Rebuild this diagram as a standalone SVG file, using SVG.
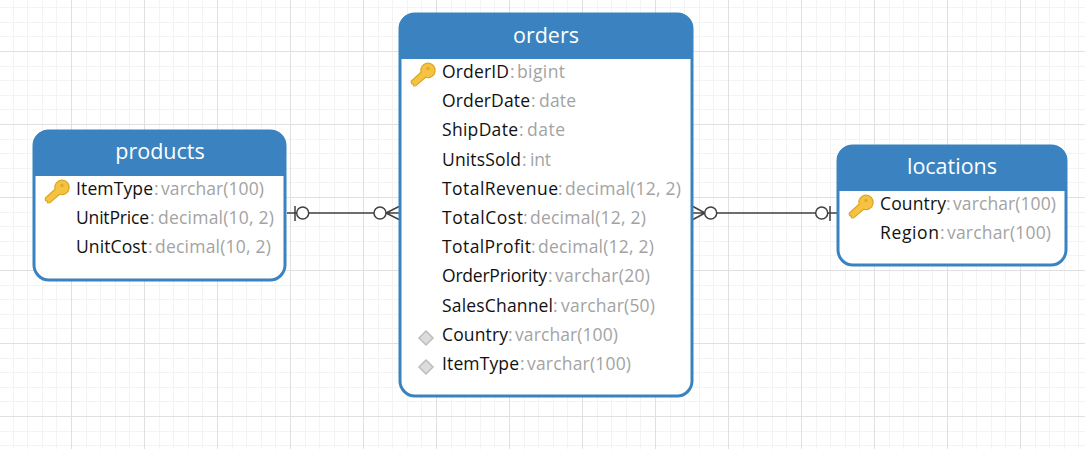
<svg xmlns="http://www.w3.org/2000/svg" width="1085" height="449" viewBox="0 0 1085 449">
<style>
text{font-family:"Open Sans","Noto Sans","Liberation Sans",sans-serif}
.t{font-size:21.5px;font-weight:500;fill:#fff;text-anchor:middle}
.f{font-size:17.5px;fill:#111}
.g{fill:#a3a3a3}
.b{fill:#fff;stroke:#3a83c0;stroke-width:3}
.h{fill:#3a83c0}
.c{fill:none;stroke:#404040;stroke-width:1.5}
.o{fill:#fff;stroke:#404040;stroke-width:1.5}
</style>
<defs>
<pattern id="grid" x="71" y="124" width="73" height="73" patternUnits="userSpaceOnUse">
<rect width="73" height="73" fill="#fff"/>
<path d="M15 0h1v73h-1zM29 0h1v73h-1zM44 0h1v73h-1zM58 0h1v73h-1zM0 15h73v1h-73zM0 29h73v1h-73zM0 44h73v1h-73zM0 58h73v1h-73z" fill="#f3f3f3"/>
<path d="M0 0h1v73h-1zM0 0h73v1h-73z" fill="#e0e0e0"/>
</pattern>
<g id="key">
<path d="M0.2 18.2L10 9.2A7.2 7.2 0 1 1 14.6 14.2L5 22.6L2.6 22.8L2.2 21L0.6 20.6Z" fill="#f5c242" stroke="#dca624" stroke-width="1.2" stroke-linejoin="round"/>
<circle cx="17" cy="5.5" r="1.8" fill="#e0ab2c"/>
</g>
<path id="dia" d="M0 -7L7 0L0 7L-7 0Z" fill="#dcdcdc" stroke="#bdbdbd" stroke-width="1.5"/>
</defs>
<rect width="1085" height="449" fill="url(#grid)"/>
<g id="connectors">
<path class="c" d="M287 213H399M295 206V221M386 213L399 206.5M386 213L399 219.5"/>
<circle class="o" cx="302.7" cy="213" r="6"/>
<circle class="o" cx="380" cy="213" r="6"/>
<path class="c" d="M693 213H837M830 206V221M705 213L693 206.5M705 213L693 219.5"/>
<circle class="o" cx="710.7" cy="213" r="6"/>
<circle class="o" cx="821.7" cy="213" r="6"/>
</g>
<g id="products">
<rect class="b" x="34" y="131" width="251" height="149" rx="15"/>
<path class="h" d="M33 176V145A15 15 0 0 1 48 130H271A15 15 0 0 1 286 145V176Z"/>
<text class="t" x="160" y="159">products</text>
<use href="#key" x="45" y="180"/>
<text class="f" y="195"><tspan x="76" textLength="77">ItemType</tspan><tspan class="g" x="154">:</tspan><tspan class="g" x="161" textLength="103">varchar(100)</tspan></text>
<text class="f" y="224"><tspan x="76" textLength="73">UnitPrice</tspan><tspan class="g" x="150">:</tspan><tspan class="g" x="158" textLength="116">decimal(10, 2)</tspan></text>
<text class="f" y="253"><tspan x="76" textLength="71">UnitCost</tspan><tspan class="g" x="148">:</tspan><tspan class="g" x="155" textLength="116">decimal(10, 2)</tspan></text>
</g>
<g id="orders">
<rect class="b" x="400" y="14" width="292" height="382" rx="15"/>
<path class="h" d="M399 59V28A15 15 0 0 1 414 13H678A15 15 0 0 1 693 28V59Z"/>
<text class="t" x="546" y="43">orders</text>
<use href="#key" x="411" y="63"/>
<text class="f" y="78"><tspan x="442" textLength="67">OrderID</tspan><tspan class="g" x="510">:</tspan><tspan class="g" x="517" textLength="48">bigint</tspan></text>
<text class="f" y="107"><tspan x="442" textLength="88">OrderDate</tspan><tspan class="g" x="531">:</tspan><tspan class="g" x="539" textLength="37">date</tspan></text>
<text class="f" y="136"><tspan x="442" textLength="76">ShipDate</tspan><tspan class="g" x="519">:</tspan><tspan class="g" x="527" textLength="38">date</tspan></text>
<text class="f" y="166"><tspan x="442" textLength="79">UnitsSold</tspan><tspan class="g" x="522">:</tspan><tspan class="g" x="530" textLength="21">int</tspan></text>
<text class="f" y="195"><tspan x="442" textLength="116">TotalRevenue</tspan><tspan class="g" x="558">:</tspan><tspan class="g" x="565" textLength="116">decimal(12, 2)</tspan></text>
<text class="f" y="224"><tspan x="442" textLength="81">TotalCost</tspan><tspan class="g" x="523">:</tspan><tspan class="g" x="530" textLength="116">decimal(12, 2)</tspan></text>
<text class="f" y="253"><tspan x="442" textLength="89">TotalProfit</tspan><tspan class="g" x="531">:</tspan><tspan class="g" x="538" textLength="116">decimal(12, 2)</tspan></text>
<text class="f" y="282"><tspan x="442" textLength="105">OrderPriority</tspan><tspan class="g" x="548">:</tspan><tspan class="g" x="555" textLength="95">varchar(20)</tspan></text>
<text class="f" y="312"><tspan x="442" textLength="111">SalesChannel</tspan><tspan class="g" x="553">:</tspan><tspan class="g" x="561" textLength="94">varchar(50)</tspan></text>
<use href="#dia" x="426" y="338"/>
<text class="f" y="341"><tspan x="442" textLength="66">Country</tspan><tspan class="g" x="508">:</tspan><tspan class="g" x="515" textLength="103">varchar(100)</tspan></text>
<use href="#dia" x="426" y="367"/>
<text class="f" y="370"><tspan x="442" textLength="77">ItemType</tspan><tspan class="g" x="520">:</tspan><tspan class="g" x="527" textLength="104">varchar(100)</tspan></text>
</g>
<g id="locations">
<rect class="b" x="838" y="146" width="228" height="119" rx="15"/>
<path class="h" d="M837 191V160A15 15 0 0 1 852 145H1052A15 15 0 0 1 1067 160V191Z"/>
<text class="t" x="952" y="174">locations</text>
<use href="#key" x="849" y="195"/>
<text class="f" y="210"><tspan x="880" textLength="66">Country</tspan><tspan class="g" x="946">:</tspan><tspan class="g" x="953" textLength="103">varchar(100)</tspan></text>
<text class="f" y="239"><tspan x="880" textLength="59">Region</tspan><tspan class="g" x="940">:</tspan><tspan class="g" x="947" textLength="104">varchar(100)</tspan></text>
</g>
</svg>
